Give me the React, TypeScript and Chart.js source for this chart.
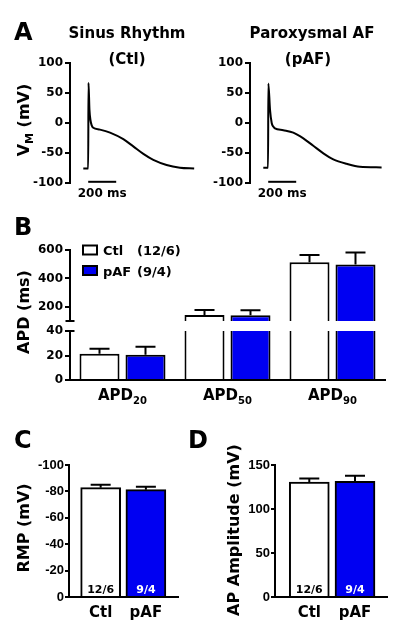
import React, { useEffect, useRef } from 'react';
import { Chart, registerables } from 'chart.js';

Chart.register(...registerables);

const FONT = 'DejaVu Sans';
const NARROW = "'Liberation Sans Narrow', 'Liberation Sans'";
const BLUE = '#0000f2';
Chart.defaults.color = '#000';
Chart.defaults.font.family = FONT;

// ---------- Panel A: action potential traces ----------
const ctlTimeMs = [-35, 0, 2, 9, 16, 25, 36, 84, 156, 251, 322, 394, 465, 560, 655, 757];
const ctlVm = [-76, -76, 67, 22, 5, -4, -8, -11, -16, -27, -39, -51.5, -61.5, -70, -74.5, -76];
const pafTimeMs = [-35, -1, 1, 13, 25, 36, 48, 108, 179, 251, 322, 394, 465, 560, 655, 810];
const pafVm = [-74.5, -74.5, 66, 22, 0, -6, -9, -12, -16, -25.5, -38, -50.5, -60.5, -68, -73, -74];
const scaleBarMs = [0, 200];
const scaleBarVm = -98;
const scaleBarLabel = '200 ms';
const vmTicks = [-100, -50, 0, 50, 100];

// ---------- Panel B: APD ----------
const apdMain = ['APD', 'APD', 'APD'];
const apdSub = ['20', '50', '90'];
const apdCtl = [21.5, 143, 513];
const apdCtlErr = [4, 34, 52];
const apdPaf = [20.6, 140, 498];
const apdPafErr = [6.5, 36, 85];
const apdUpperTicks = [200, 400, 600];
const apdLowerTicks = [0, 20, 40];
const groupNames = ['Ctl', 'pAF'];
const groupCounts = ['12/6', '9/4'];
const legendCounts = ['(12/6)', '(9/4)'];

// ---------- Panel C: RMP ----------
const rmpValues = [-82.8, -81.3];
const rmpErr = [2.2, 2.3];
const rmpTicks = [0, -20, -40, -60, -80, -100];

// ---------- Panel D: AP amplitude ----------
const ampValues = [130.7, 131.4];
const ampErr = [4.1, 6.4];
const ampTicks = [0, 50, 100, 150];

const W = 400;
const H = 637;
const YAXIS_W = 60;

function pad(L: number, T: number, R: number, B: number) {
  return { left: L - YAXIS_W, top: T, right: W - R, bottom: H - B };
}

function yAxis(min: number, max: number, ticks: number[], extra: any = {}, font: any = { family: FONT, weight: 'bold', size: 12 }, tickPad = 2, tickLen = 5) {
  return {
    type: 'linear',
    position: 'left',
    min,
    max,
    afterBuildTicks: (s: any) => {
      s.ticks = ticks.map((v) => ({ value: v }));
    },
    afterFit: (s: any) => {
      s.width = YAXIS_W;
    },
    ticks: { color: '#000', font, padding: tickPad, autoSkip: false },
    grid: { drawOnChartArea: false, drawTicks: true, tickLength: tickLen, color: '#000', lineWidth: 2 },
    border: { display: true, color: '#000', width: 2 },
    ...extra,
  };
}

function txt(ctx: CanvasRenderingContext2D, s: string, x: number, y: number, size: number, align: CanvasTextAlign = 'center', color = '#000') {
  ctx.save();
  ctx.font = `bold ${size}px "${FONT}"`;
  ctx.fillStyle = color;
  ctx.textAlign = align;
  ctx.textBaseline = 'alphabetic';
  ctx.fillText(s, x, y);
  ctx.restore();
}

type Part = { s: string; size: number; dy?: number };

function partsWidth(ctx: CanvasRenderingContext2D, parts: Part[]) {
  let w = 0;
  for (const p of parts) {
    ctx.font = `bold ${p.size}px "${FONT}"`;
    w += ctx.measureText(p.s).width;
  }
  return w;
}

function drawParts(ctx: CanvasRenderingContext2D, parts: Part[], cx: number, y: number, rotate: boolean) {
  ctx.save();
  ctx.fillStyle = '#000';
  ctx.textAlign = 'left';
  ctx.textBaseline = 'alphabetic';
  const total = partsWidth(ctx, parts);
  ctx.translate(cx, y);
  if (rotate) ctx.rotate(-Math.PI / 2);
  let cur = -total / 2;
  for (const p of parts) {
    ctx.font = `bold ${p.size}px "${FONT}"`;
    ctx.fillText(p.s, cur, p.dy || 0);
    cur += ctx.measureText(p.s).width;
  }
  ctx.restore();
}

const errorBarPlugin = {
  id: 'errbars',
  afterDatasetsDraw(chart: any) {
    const { ctx, chartArea: a } = chart;
    ctx.save();
    ctx.beginPath();
    ctx.rect(a.left, a.top - 1, a.right - a.left, a.bottom - a.top + 2);
    ctx.clip();
    ctx.strokeStyle = '#000';
    ctx.lineWidth = 2;
    chart.data.datasets.forEach((ds: any, di: number) => {
      const errs = ds.errors;
      if (!errs) return;
      const meta = chart.getDatasetMeta(di);
      const yScale = chart.scales[meta.yAxisID];
      meta.data.forEach((el: any, i: number) => {
        const raw = ds.data[i];
        const v = typeof raw === 'number' ? raw : raw.y;
        const tip = v + (v < 0 ? -errs[i] : errs[i]);
        const y0 = yScale.getPixelForValue(v);
        const y1 = yScale.getPixelForValue(tip);
        const half = el.width / 4;
        ctx.beginPath();
        ctx.moveTo(el.x, y0);
        ctx.lineTo(el.x, y1);
        ctx.moveTo(el.x - half, y1);
        ctx.lineTo(el.x + half, y1);
        ctx.stroke();
      });
    });
    ctx.restore();
  },
};

function drawPlugin(id: string, fn: (chart: any, ctx: CanvasRenderingContext2D) => void) {
  return {
    id,
    afterDraw(chart: any) {
      fn(chart, chart.ctx);
    },
  };
}

const baseOptions = {
  responsive: false,
  animation: false,
  events: [],
  plugins: { legend: { display: false }, tooltip: { enabled: false } },
};

function traceConfig(times: number[], vms: number[], L: number, R: number, draw: (chart: any, ctx: CanvasRenderingContext2D) => void) {
  return {
    type: 'line',
    data: {
      datasets: [
        {
          data: times.map((t, i) => ({ x: t, y: vms[i] })),
          borderColor: '#000',
          borderWidth: 2,
          pointRadius: 0,
          fill: false,
          cubicInterpolationMode: 'monotone',
        },
        {
          data: scaleBarMs.map((t) => ({ x: t, y: scaleBarVm })),
          borderColor: '#000',
          borderWidth: 2,
          pointRadius: 0,
          fill: false,
        },
      ],
    },
    options: {
      ...baseOptions,
      layout: { padding: pad(L, 63, R, 183) },
      scales: {
        x: { type: 'linear', min: -130, max: 870, display: false },
        y: yAxis(-100, 100, vmTicks),
      },
    },
    plugins: [
      drawPlugin('txtA' + L, (chart, ctx) => {
        draw(chart, ctx);
        const xs = chart.scales.x;
        txt(ctx, scaleBarLabel, xs.getPixelForValue((scaleBarMs[0] + scaleBarMs[1]) / 2), 197, 12);
      }),
    ],
  };
}

function configA1() {
  return traceConfig(ctlTimeMs, ctlVm, 70, 210, (chart, ctx) => {
    txt(ctx, 'A', 14, 40, 24, 'left');
    txt(ctx, 'Sinus Rhythm', 127, 38, 15);
    txt(ctx, '(Ctl)', 127, 64, 15);
    drawParts(ctx, [{ s: 'V', size: 16 }, { s: 'M', size: 11, dy: 4 }, { s: ' (mV)', size: 16 }], 29, 120, true);
  });
}

function configA2() {
  return traceConfig(pafTimeMs, pafVm, 250, 390, (chart, ctx) => {
    txt(ctx, 'Paroxysmal AF', 312, 38, 15);
    txt(ctx, '(pAF)', 308, 64, 15);
  });
}

function apdDatasets() {
  const common = { borderColor: '#000', borderWidth: 2, clip: 0, categoryPercentage: 0.876, barPercentage: 0.87 };
  return [
    { label: groupNames[0], data: apdCtl, backgroundColor: '#fff', errors: apdCtlErr, ...common },
    { label: groupNames[1], data: apdPaf, backgroundColor: BLUE, errors: apdPafErr, ...common },
  ];
}

function breakMark(ctx: CanvasRenderingContext2D, x: number, y: number) {
  ctx.save();
  ctx.strokeStyle = '#000';
  ctx.lineWidth = 2;
  ctx.beginPath();
  ctx.moveTo(x - 4.5, y);
  ctx.lineTo(x + 4.5, y);
  ctx.stroke();
  ctx.restore();
}

function configBTop() {
  return {
    type: 'bar',
    data: { labels: apdMain.map((m, i) => m + apdSub[i]), datasets: apdDatasets() },
    options: {
      ...baseOptions,
      layout: { padding: pad(70, 250, 385, 321) },
      scales: {
        x: { type: 'category', display: false },
        y: yAxis(100, 600, apdUpperTicks),
      },
    },
    plugins: [
      errorBarPlugin,
      drawPlugin('txtB', (chart, ctx) => {
        const a = chart.chartArea;
        txt(ctx, 'B', 14, 235, 24, 'left');
        drawParts(ctx, [{ s: 'APD (ms)', size: 16 }], 29, 312, true);
        breakMark(ctx, a.left, a.bottom);
        const rows = [250, 270.5];
        chart.data.datasets.forEach((ds: any, i: number) => {
          const cy = rows[i];
          ctx.save();
          ctx.fillStyle = ds.backgroundColor;
          ctx.fillRect(83, cy - 4.5, 14, 9);
          ctx.strokeStyle = '#000';
          ctx.lineWidth = 2;
          ctx.strokeRect(83, cy - 4.5, 14, 9);
          ctx.restore();
          txt(ctx, ds.label, 103, cy + 5, 13, 'left');
          txt(ctx, legendCounts[i], 137, cy + 5, 13, 'left');
        });
      }),
    ],
  };
}

function configBBottom() {
  return {
    type: 'bar',
    data: { labels: apdMain.map((m, i) => m + apdSub[i]), datasets: apdDatasets() },
    options: {
      ...baseOptions,
      layout: { padding: pad(70, 331, 385, 380) },
      scales: {
        x: {
          type: 'category',
          ticks: { display: false },
          grid: { display: false },
          border: { display: true, color: '#000', width: 2 },
          afterFit: (s: any) => {
            s.height = 0;
          },
        },
        y: yAxis(0, 40, apdLowerTicks),
      },
    },
    plugins: [
      errorBarPlugin,
      drawPlugin('txtB2', (chart, ctx) => {
        const a = chart.chartArea;
        breakMark(ctx, a.left, a.top);
        const xs = chart.scales.x;
        apdMain.forEach((m, i) => {
          drawParts(ctx, [{ s: m, size: 15 }, { s: apdSub[i], size: 10, dy: 4 }], xs.getPixelForValue(i), 400, false);
        });
      }),
    ],
  };
}

const smallTickFont = { family: NARROW, weight: 'bold', size: 13 };

function smallBarConfig(
  values: number[],
  errs: number[],
  L: number,
  R: number,
  xmin: number,
  xmax: number,
  y: any,
  draw: (chart: any, ctx: CanvasRenderingContext2D) => void
) {
  return {
    type: 'bar',
    data: {
      datasets: [
        {
          data: values.map((v, i) => ({ x: i, y: v })),
          backgroundColor: ['#fff', BLUE],
          borderColor: '#000',
          borderWidth: 2,
          barThickness: 40,
          clip: 0,
          errors: errs,
        },
      ],
    },
    options: {
      ...baseOptions,
      layout: { padding: pad(L, 465, R, 597) },
      scales: {
        x: {
          type: 'linear',
          min: xmin,
          max: xmax,
          offset: false,
          ticks: { display: false },
          grid: { display: false },
          border: { display: true, color: '#000', width: 2 },
          afterFit: (s: any) => {
            s.height = 0;
          },
        },
        y,
      },
    },
    plugins: [
      errorBarPlugin,
      drawPlugin('txtS' + L, (chart, ctx) => {
        draw(chart, ctx);
        const meta = chart.getDatasetMeta(0);
        const a = chart.chartArea;
        meta.data.forEach((el: any, i: number) => {
          txt(ctx, groupCounts[i], el.x, a.bottom - 4, 11, 'center', i === 0 ? '#000' : '#fff');
          txt(ctx, groupNames[i], el.x, 617, 15);
        });
      }),
    ],
  };
}

function configC() {
  return smallBarConfig(
    rmpValues,
    rmpErr,
    69,
    178,
    -0.7,
    1.71,
    yAxis(-100, 0, rmpTicks, { reverse: true }, smallTickFont, 1, 4),
    (chart, ctx) => {
      txt(ctx, 'C', 14, 448, 24, 'left');
      drawParts(ctx, [{ s: 'RMP (mV)', size: 16 }], 29, 528, true);
    }
  );
}

function configD() {
  return smallBarConfig(
    ampValues,
    ampErr,
    275,
    387,
    -0.75,
    1.7,
    yAxis(0, 150, ampTicks, {}, smallTickFont, 1, 4),
    (chart, ctx) => {
      txt(ctx, 'D', 188, 448, 24, 'left');
      drawParts(ctx, [{ s: 'AP Amplitude (mV)', size: 16 }], 239, 530, true);
    }
  );
}

const configs = [configA1, configA2, configBTop, configBBottom, configC, configD];

function ChartCanvas({ make }: { make: () => any }) {
  const ref = useRef<HTMLCanvasElement | null>(null);
  useEffect(() => {
    const chart = new Chart(ref.current as HTMLCanvasElement, make());
    return () => chart.destroy();
  }, [make]);
  return (
    <canvas
      ref={ref}
      width={W}
      height={H}
      style={{ position: 'absolute', left: 0, top: 0, width: W, height: H }}
    />
  );
}

export default function App() {
  return (
    <div style={{ position: 'absolute', left: 0, top: 0, width: W, height: H, background: '#fff', overflow: 'hidden' }}>
      {configs.map((m, i) => (
        <ChartCanvas key={i} make={m} />
      ))}
    </div>
  );
}
